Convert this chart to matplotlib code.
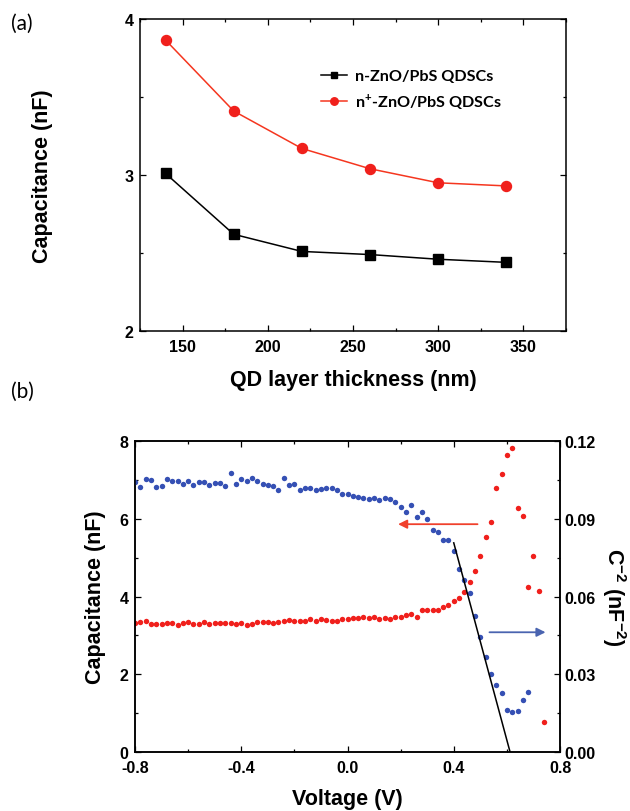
import numpy as np
import matplotlib
matplotlib.use("Agg")
import matplotlib.pyplot as plt
from matplotlib.ticker import MultipleLocator, FormatStrFormatter

plt.rcParams["font.family"] = ["Liberation Sans", "DejaVu Sans"]
plt.rcParams["font.weight"] = "bold"
plt.rcParams["axes.unicode_minus"] = False
plt.rcParams["mathtext.fontset"] = "custom"
plt.rcParams["mathtext.rm"] = "Liberation Sans:bold"
plt.rcParams["mathtext.bf"] = "Liberation Sans:bold"
plt.rcParams["mathtext.default"] = "bf"

# (a) capacitance vs QD layer thickness
thickness = [140, 180, 220, 260, 300, 340]
cap_n = [3.01, 2.62, 2.51, 2.49, 2.46, 2.44]
cap_nplus = [3.865, 3.41, 3.17, 3.04, 2.95, 2.93]

# (b) C-V sweep (red, left axis) and Mott-Schottky C^-2 (blue, right axis)
volt_c = [-0.80, -0.78, -0.76, -0.74, -0.72, -0.70, -0.68, -0.66, -0.64, -0.62,
          -0.60, -0.58, -0.56, -0.54, -0.52, -0.50, -0.48, -0.46, -0.44, -0.42,
          -0.40, -0.38, -0.36, -0.34, -0.32, -0.30, -0.28, -0.26, -0.24, -0.22,
          -0.20, -0.18, -0.16, -0.14, -0.12, -0.10, -0.08, -0.06, -0.04, -0.02,
          0.00, 0.02, 0.04, 0.06, 0.08, 0.10, 0.12, 0.14, 0.16, 0.18,
          0.20, 0.22, 0.24, 0.26, 0.28, 0.30, 0.32, 0.34, 0.36, 0.38,
          0.40, 0.42, 0.44, 0.46, 0.48, 0.50, 0.52, 0.54, 0.56, 0.58,
          0.60, 0.62, 0.64, 0.66, 0.68, 0.70, 0.72, 0.74]
cap_v = [3.32, 3.35, 3.36, 3.30, 3.28, 3.30, 3.33, 3.32, 3.26, 3.31,
         3.35, 3.30, 3.29, 3.34, 3.30, 3.31, 3.31, 3.31, 3.32, 3.30,
         3.31, 3.27, 3.30, 3.35, 3.34, 3.34, 3.31, 3.34, 3.38, 3.40,
         3.36, 3.36, 3.38, 3.42, 3.36, 3.41, 3.39, 3.38, 3.38, 3.43,
         3.42, 3.44, 3.45, 3.46, 3.45, 3.47, 3.42, 3.44, 3.43, 3.47,
         3.48, 3.53, 3.55, 3.48, 3.64, 3.65, 3.64, 3.66, 3.72, 3.78,
         3.88, 3.95, 4.12, 4.37, 4.65, 5.04, 5.52, 5.91, 6.79, 7.16,
         7.65, 7.83, 6.28, 6.08, 4.24, 5.04, 4.14, 0.76]

volt_ms = [-0.80, -0.78, -0.76, -0.74, -0.72, -0.70, -0.68, -0.66, -0.64, -0.62,
           -0.60, -0.58, -0.56, -0.54, -0.52, -0.50, -0.48, -0.46, -0.44, -0.42,
           -0.40, -0.38, -0.36, -0.34, -0.32, -0.30, -0.28, -0.26, -0.24, -0.22,
           -0.20, -0.18, -0.16, -0.14, -0.12, -0.10, -0.08, -0.06, -0.04, -0.02,
           0.00, 0.02, 0.04, 0.06, 0.08, 0.10, 0.12, 0.14, 0.16, 0.18,
           0.20, 0.22, 0.24, 0.26, 0.28, 0.30, 0.32, 0.34, 0.36, 0.38,
           0.40, 0.42, 0.44, 0.46, 0.48, 0.50, 0.52, 0.54, 0.56, 0.58,
           0.60, 0.62, 0.64, 0.66, 0.68]
inv_c2 = [0.1041, 0.1024, 0.1052, 0.1051, 0.1021, 0.1028, 0.1052, 0.1045, 0.1045, 0.1035,
          0.1047, 0.1030, 0.1043, 0.1041, 0.1032, 0.1039, 0.1039, 0.1026, 0.1077, 0.1035,
          0.1052, 0.1047, 0.1057, 0.1047, 0.1035, 0.1029, 0.1025, 0.1012, 0.1057, 0.1032,
          0.1033, 0.1012, 0.1020, 0.1018, 0.1010, 0.1015, 0.1018, 0.1018, 0.1012, 0.0997,
          0.0994, 0.0989, 0.0984, 0.0979, 0.0976, 0.0979, 0.0971, 0.0979, 0.0976, 0.0966,
          0.0945, 0.0927, 0.0953, 0.0907, 0.0925, 0.0899, 0.0856, 0.0850, 0.0819, 0.0819,
          0.0777, 0.0706, 0.0665, 0.0612, 0.0526, 0.0445, 0.0368, 0.0301, 0.0258, 0.0228,
          0.0163, 0.0153, 0.0159, 0.0201, 0.0233]

# linear fit drawn on the Mott-Schottky data (end points)
fit_v = [0.40, 0.612]
fit_c2 = [0.0807, 0.0]

RED = "#f0201c"
BLUE = "#3550b4"
TICK_FS = 11.5
LABEL_FS = 15.5


def style_ticks(ax, **kw):
    ax.tick_params(which="both", direction="in", labelsize=TICK_FS, width=0.9, **kw)
    ax.tick_params(which="major", length=4.5)
    ax.tick_params(which="minor", length=2.5)
    for s in ax.spines.values():
        s.set_linewidth(1.1)


fig = plt.figure(figsize=(6.3, 8.12), dpi=100)

# ---- panel (a) ----
ax_a = fig.add_axes([140 / 630, 1 - 332 / 812, 426 / 630, 312 / 812])
ax_a.plot(thickness, cap_n, color="black", lw=1.1, marker="s", ms=6.6,
          label="n-ZnO/PbS QDSCs")
ax_a.plot(thickness, cap_nplus, color="#f5361f", lw=1.1, marker="o", ms=7.2,
          mfc=RED, mec=RED, label=r"n$^{+}$-ZnO/PbS QDSCs")
ax_a.set_xlim(125, 375)
ax_a.set_ylim(2, 4)
ax_a.xaxis.set_major_locator(MultipleLocator(50))
ax_a.xaxis.set_minor_locator(MultipleLocator(25))
ax_a.yaxis.set_major_locator(MultipleLocator(1))
ax_a.yaxis.set_minor_locator(MultipleLocator(0.5))
style_ticks(ax_a, top=True, right=True)
ax_a.tick_params(axis="x", pad=5.5)
ax_a.tick_params(axis="y", pad=4.5)
ax_a.set_xlabel("QD layer thickness (nm)", fontsize=LABEL_FS, fontweight="bold", va="center")
ax_a.set_ylabel("Capacitance (nF)", fontsize=LABEL_FS, fontweight="bold", va="center")
ax_a.xaxis.set_label_coords(0.5, -0.157)
ax_a.yaxis.set_label_coords(-0.228, 0.5)
leg = ax_a.legend(loc="upper left", bbox_to_anchor=(0.425, 0.84), frameon=False,
                  borderpad=0, borderaxespad=0, handlelength=1.6, handletextpad=0.5,
                  labelspacing=0.5, markerscale=0.75,
                  prop={"family": ["Lato", "DejaVu Sans"], "weight": "bold", "size": 11.6})

# ---- panel (b) ----
ax_b = fig.add_axes([135 / 630, 1 - 753 / 812, 425 / 630, 311 / 812])
ax_r = ax_b.twinx()
ax_b.plot(volt_c, cap_v, ls="none", marker="o", ms=3.9, color=RED, mec="none")
ax_r.plot(volt_ms, inv_c2, ls="none", marker="o", ms=3.9, color=BLUE, mec="none")
ax_r.plot(fit_v, fit_c2, color="black", lw=1.1)
ax_b.set_xlim(-0.8, 0.8)
ax_b.set_ylim(0, 8)
ax_r.set_ylim(0, 0.12)
ax_b.xaxis.set_major_locator(MultipleLocator(0.4))
ax_b.xaxis.set_minor_locator(MultipleLocator(0.2))
ax_b.xaxis.set_major_formatter(FormatStrFormatter("%.1f"))
ax_b.yaxis.set_major_locator(MultipleLocator(2))
ax_b.yaxis.set_minor_locator(MultipleLocator(1))
ax_r.yaxis.set_major_locator(MultipleLocator(0.03))
ax_r.yaxis.set_minor_locator(MultipleLocator(0.015))
ax_r.yaxis.set_major_formatter(FormatStrFormatter("%.2f"))
style_ticks(ax_b, top=True)
style_ticks(ax_r)
ax_b.tick_params(axis="x", pad=5.5)
ax_b.tick_params(axis="y", pad=4.5)
ax_r.tick_params(axis="y", pad=3.5)

ax_b.annotate("", xy=(0.18, 5.86), xytext=(0.50, 5.86),
              arrowprops=dict(arrowstyle="-|>", color="#f0402c", lw=1.3, mutation_scale=13))
ax_r.annotate("", xy=(0.756, 0.0462), xytext=(0.524, 0.0462),
              arrowprops=dict(arrowstyle="-|>", color="#4a64b0", lw=1.3, mutation_scale=13))

ax_b.set_xlabel("Voltage (V)", fontsize=LABEL_FS, fontweight="bold", va="center")
ax_b.set_ylabel("Capacitance (nF)", fontsize=LABEL_FS, fontweight="bold", va="center")
ax_r.set_ylabel(r"C$^{-2}$ (nF$^{-2}$)", fontsize=LABEL_FS, fontweight="bold",
                rotation=270, va="center")
ax_b.xaxis.set_label_coords(0.5, -0.151)
ax_b.yaxis.set_label_coords(-0.093, 0.5)
ax_r.yaxis.set_label_coords(1.128, 0.5)

# panel tags
fig.text(22 / 630, 1 - 24 / 812, "(a)", fontsize=15, fontweight="normal",
         family=["Lato", "DejaVu Sans"], ha="center", va="center")
fig.text(22 / 630, 1 - 392 / 812, "(b)", fontsize=15, fontweight="normal",
         family=["Lato", "DejaVu Sans"], ha="center", va="center")

fig.savefig("out.png", dpi=100)
